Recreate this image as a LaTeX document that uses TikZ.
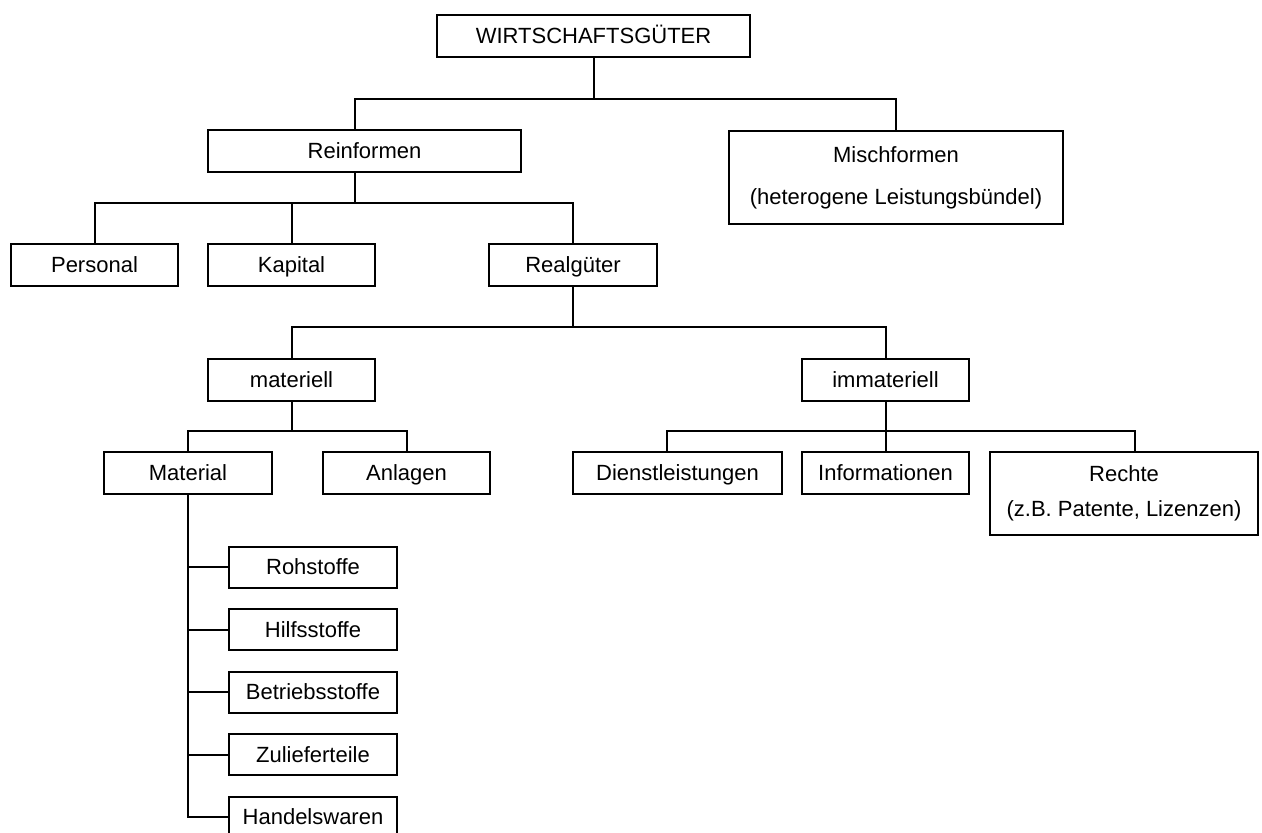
\documentclass[tikz,border=0pt]{standalone}
\usepackage{fontspec}
\setmainfont{Liberation Sans}
\begin{document}
\begin{tikzpicture}[x=1pt,y=-1pt,
  box/.style={draw, line width=2pt, inner sep=0pt, align=center,
    font=\fontsize{22pt}{26pt}\selectfont},
  one/.style={box, text height=16pt, text depth=1pt},
  leaf/.style={one, minimum width=168pt, minimum height=41pt},
  link/.style={line width=2pt}]
\useasboundingbox (0,0) rectangle (1262,833);
\clip (0,0) rectangle (1262,833);

% levels of the horizontal junction lines
\coordinate (r1) at (0,99);
\coordinate (r2) at (0,203);
\coordinate (r3) at (0,327);
\coordinate (r4) at (0,431);

% boxes
\node[one, minimum width=313pt, minimum height=42pt] (wg) at (593.5,36) {WIRTSCHAFTSGÜTER};
\node[one, minimum width=313pt, minimum height=42pt] (rein) at (364.5,151) {Reinformen};
\node[box, minimum width=334pt, minimum height=93pt] (misch) at (896,177.5)
  {Mischformen\\[16pt](heterogene Leistungsbündel)};

\node[one, minimum width=167pt, minimum height=42pt] (pers) at (94.5,265) {Personal};
\node[one, minimum width=167pt, minimum height=42pt] (kap) at (291.5,265) {Kapital};
\node[one, minimum width=168pt, minimum height=42pt] (realg) at (573,265) {Realgüter};

\node[one, minimum width=167pt, minimum height=42pt] (mat) at (291.5,380) {materiell};
\node[one, minimum width=167pt, minimum height=42pt] (immat) at (885.5,380) {immateriell};

\node[one, minimum width=168pt, minimum height=42pt] (material) at (188,473) {Material};
\node[one, minimum width=167pt, minimum height=42pt] (anl) at (406.5,473) {Anlagen};
\node[one, minimum width=209pt, minimum height=42pt] (dienst) at (677.5,473) {Dienstleistungen};
\node[one, minimum width=167pt, minimum height=42pt] (info) at (885.5,473) {Informationen};
\node[box, minimum width=268pt, minimum height=83pt] (rechte) at (1124,493.5)
  {Rechte\\[9pt](z.B. Patente, Lizenzen)};

\node[leaf] (roh) at (313,567) {Rohstoffe};
\node[leaf] (hilf) at (313,629.5) {Hilfsstoffe};
\node[leaf] (betr) at (313,692) {Betriebsstoffe};
\node[leaf] (zul) at (313,754.5) {Zulieferteile};
\node[leaf] (hw) at (313,817) {Handelswaren};

% connectors
\coordinate (reinT) at ([xshift=-9.5pt]rein.north);
\coordinate (reinB) at ([xshift=-9.5pt]rein.south);
\coordinate (dienstT) at ([xshift=-10.5pt]dienst.north);
\coordinate (rechteT) at ([xshift=11pt]rechte.north);

\draw[link] (wg.south) -- (wg.south |- r1);
\draw[link] (reinT) -- (reinT |- r1) -- (misch.north |- r1) -- (misch.north);

\draw[link] (reinB) -- (reinB |- r2);
\draw[link] (pers.north) -- (pers.north |- r2) -- (realg.north |- r2) -- (realg.north);
\draw[link] (kap.north) -- (kap.north |- r2);

\draw[link] (realg.south) -- (realg.south |- r3);
\draw[link] (mat.north) -- (mat.north |- r3) -- (immat.north |- r3) -- (immat.north);

\draw[link] (mat.south) -- (mat.south |- r4);
\draw[link] (material.north) -- (material.north |- r4) -- (anl.north |- r4) -- (anl.north);

\draw[link] (immat.south) -- (immat.south |- r4);
\draw[link] (dienstT) -- (dienstT |- r4) -- (rechteT |- r4) -- (rechteT);
\draw[link] (info.north) -- (info.north |- r4);

\draw[link] (material.south) |- (hw.west);
\foreach \n in {roh,hilf,betr,zul}
  \draw[link] (\n.west) -- (\n.west -| material.south);
\end{tikzpicture}
\end{document}
